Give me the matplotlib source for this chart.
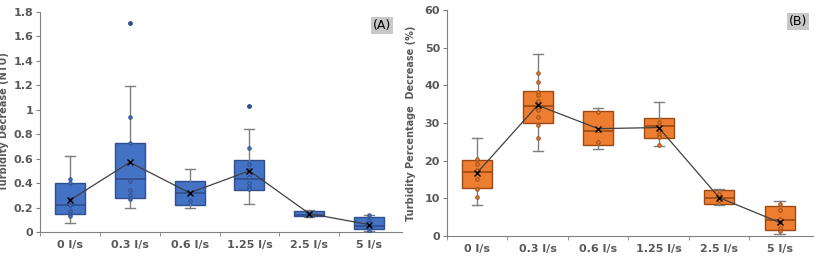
import matplotlib
matplotlib.use('Agg')
import matplotlib.pyplot as plt

categories = ['0 l/s', '0.3 l/s', '0.6 l/s', '1.25 l/s', '2.5 l/s', '5 l/s']

# (A) turbidity decrease, NTU
a_whislo = [0.075, 0.20, 0.20, 0.225, 0.125, 0.005]
a_q1 = [0.15, 0.28, 0.22, 0.34, 0.13, 0.02]
a_med = [0.22, 0.43, 0.315, 0.43, 0.135, 0.05]
a_q3 = [0.40, 0.725, 0.415, 0.59, 0.17, 0.125]
a_whishi = [0.625, 1.195, 0.515, 0.84, 0.18, 0.14]
a_mean = [0.26, 0.57, 0.32, 0.50, 0.15, 0.06]
a_fliers = [[], [1.71], [], [1.03], [], []]
a_points = [[0.43, 0.40, 0.27, 0.22, 0.17, 0.15, 0.13],
            [0.94, 0.725, 0.42, 0.34, 0.30, 0.27],
            [0.32, 0.25],
            [0.69, 0.555, 0.51, 0.45, 0.40, 0.37, 0.35],
            [0.15, 0.14],
            [0.14, 0.10, 0.07, 0.05, 0.03, 0.01]]

# (B) turbidity percentage decrease
b_whislo = [8.2, 22.7, 23.2, 24.0, 8.2, 0.5]
b_q1 = [12.8, 30.0, 24.2, 26.0, 8.6, 1.5]
b_med = [16.9, 34.5, 27.8, 29.2, 10.2, 4.2]
b_q3 = [20.3, 38.5, 33.2, 31.2, 12.2, 8.0]
b_whishi = [26.0, 48.2, 33.9, 35.5, 12.6, 9.4]
b_mean = [16.8, 34.7, 28.5, 28.8, 10.2, 3.6]
b_fliers = [[], [], [], [], [], []]
b_points = [[20.4, 19.2, 17.5, 15.1, 12.4, 10.4],
            [43.2, 40.8, 38.2, 37.5, 35.8, 33.5, 31.5, 29.4, 26.0],
            [32.8, 28.1, 25.0],
            [30.2, 29.3, 28.2, 27.2, 26.2, 24.2],
            [11.2, 9.5],
            [8.4, 6.8, 4.4, 3.6, 2.1, 1.4]]

text_gray = '#595959'


def draw_panel(ax, lo, q1, med, q3, hi, mean, fliers, points,
               face, edge, ylim, yticks, yticklabels, ylabel, labx, tag, tagpos):
    stats = []
    for i in range(len(categories)):
        stats.append(dict(whislo=lo[i], q1=q1[i], med=med[i], q3=q3[i],
                          whishi=hi[i], fliers=fliers[i]))
    pos = list(range(len(categories)))
    ax.bxp(stats, positions=pos, widths=0.5, patch_artist=True,
           showfliers=True,
           boxprops=dict(facecolor=face, edgecolor=edge, linewidth=1.0),
           medianprops=dict(color=edge, linewidth=1.2),
           whiskerprops=dict(color='#7f7f7f', linewidth=1.0),
           capprops=dict(color='#7f7f7f', linewidth=1.0),
           capwidths=0.17,
           flierprops=dict(marker='o', markersize=2.5, markerfacecolor=edge,
                           markeredgecolor=edge))
    for i, pts in enumerate(points):
        ax.plot([i] * len(pts), pts, 'o', markersize=2.5, markerfacecolor=face,
                markeredgecolor=edge, markeredgewidth=0.7, zorder=4)
    ax.plot(pos, mean, color='#404040', linewidth=0.9, marker='x',
            markersize=4, markeredgecolor='black', markeredgewidth=1.0, zorder=5)

    ax.set_xlim(-0.5, 5.55)
    ax.set_ylim(*ylim)
    ax.set_yticks(yticks)
    ax.set_yticklabels(yticklabels)
    ax.set_xticks(pos)
    ax.set_xticklabels(categories)
    ax.set_xticks([p + 0.5 for p in pos[:-1]] + [-0.5], minor=True)
    ax.tick_params(axis='x', which='major', length=0, pad=6)
    ax.tick_params(axis='x', which='minor', length=3, color='#808080')
    ax.tick_params(axis='y', length=3, color='#808080', pad=2)
    for lab in ax.get_xticklabels() + ax.get_yticklabels():
        lab.set_fontweight('bold')
        lab.set_color(text_gray)
        lab.set_fontsize(8)
    for s in ['top', 'right']:
        ax.spines[s].set_visible(False)
    for s in ['left', 'bottom']:
        ax.spines[s].set_color('#808080')
        ax.spines[s].set_linewidth(0.8)
    ax.set_ylabel(ylabel, fontsize=7, fontweight='bold', color=text_gray)
    ax.yaxis.set_label_coords(labx, 0.5)
    ax.text(tagpos[0], tagpos[1], tag, transform=ax.transAxes, fontsize=9,
            ha='center', va='center',
            bbox=dict(boxstyle='square,pad=0.15', facecolor='#c8c8c8',
                      edgecolor='none'))


fig = plt.figure(figsize=(8.17, 2.56), dpi=100)
ax1 = fig.add_axes([0.049, 0.094, 0.443, 0.859])
ax2 = fig.add_axes([0.547, 0.078, 0.448, 0.883])

draw_panel(ax1, a_whislo, a_q1, a_med, a_q3, a_whishi, a_mean, a_fliers,
           a_points, '#4472C4', '#2F4F8F', (0, 1.8),
           [0, 0.2, 0.4, 0.6, 0.8, 1.0, 1.2, 1.4, 1.6, 1.8],
           ['0', '0.2', '0.4', '0.6', '0.8', '1', '1.2', '1.4', '1.6', '1.8'],
           'Turbidity Decrease (NTU)', -0.085, '(A)', (0.945, 0.94))
draw_panel(ax2, b_whislo, b_q1, b_med, b_q3, b_whishi, b_mean, b_fliers,
           b_points, '#ED7D31', '#9C4A14', (0, 60),
           [0, 10, 20, 30, 40, 50, 60],
           ['0', '10', '20', '30', '40', '50', '60'],
           'Turbidity Percentage  Decrease (%)', -0.085, '(B)', (0.96, 0.95))

fig.savefig('out.png', dpi=100)
